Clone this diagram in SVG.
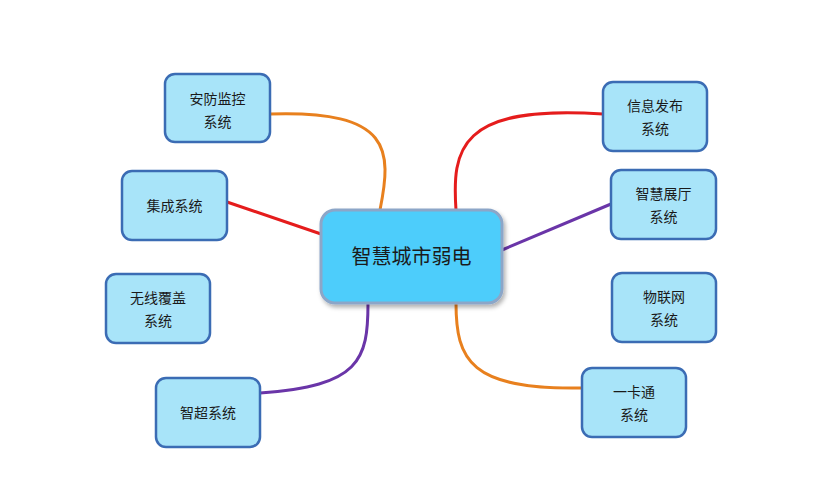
<svg xmlns="http://www.w3.org/2000/svg" width="828" height="500" viewBox="0 0 828 500">
<defs>
<style>
.n{fill:#a8e4f9;stroke:#3b6cb4;stroke-width:2.5}
.t{font-family:"Noto Sans CJK SC",sans-serif;font-size:14px;fill:#1a1a1a;text-anchor:middle}
.c{fill:none;stroke-width:3}
</style>
<filter id="s" x="-10%" y="-10%" width="130%" height="130%"><feDropShadow dx="2" dy="3" stdDeviation="2" flood-color="#000" flood-opacity="0.3"/></filter>
</defs>
<rect width="828" height="500" fill="#fff"/>
<g id="connectors">
<path class="c" stroke="#e8801e" d="M270,114 C392,110 392,150 380,210"/>
<path class="c" stroke="#e51c1c" d="M227,202 L321,234"/>
<path class="c" stroke="#6a35a8" d="M260,393 C360,386 368,360 368,303"/>
<path class="c" stroke="#e51c1c" d="M603,114 C458,104 452,150 456,210"/>
<path class="c" stroke="#6a35a8" d="M611,204 L502,250"/>
<path class="c" stroke="#e8801e" d="M582,388 C470,390 456,360 456,303"/>
</g>
<g id="center"><rect x="321" y="210" width="181" height="93" rx="14" fill="#4dcdfb" stroke="#8ca6c8" stroke-width="3" filter="url(#s)"/><text x="411.5" y="264" class="t" style="font-size:20px">智慧城市弱电</text></g>
<g id="n1"><rect class="n" x="165" y="74" width="105" height="68" rx="10"/><text class="t" x="217.5" y="104">安防监控</text><text class="t" x="217.5" y="127">系统</text></g>
<g id="n2"><rect class="n" x="122" y="171" width="105" height="69" rx="10"/><text class="t" x="174.5" y="211">集成系统</text></g>
<g id="n3"><rect class="n" x="106" y="274" width="104" height="69" rx="10"/><text class="t" x="158" y="303">无线覆盖</text><text class="t" x="158" y="326">系统</text></g>
<g id="n4"><rect class="n" x="156" y="378" width="104" height="69" rx="10"/><text class="t" x="208" y="418">智超系统</text></g>
<g id="n5"><rect class="n" x="603" y="82" width="104" height="69" rx="10"/><text class="t" x="655" y="111">信息发布</text><text class="t" x="655" y="134">系统</text></g>
<g id="n6"><rect class="n" x="611" y="170" width="105" height="69" rx="10"/><text class="t" x="663.5" y="199">智慧展厅</text><text class="t" x="663.5" y="222">系统</text></g>
<g id="n7"><rect class="n" x="612" y="273" width="104" height="69" rx="10"/><text class="t" x="664" y="302">物联网</text><text class="t" x="664" y="325">系统</text></g>
<g id="n8"><rect class="n" x="582" y="368" width="104" height="69" rx="10"/><text class="t" x="634" y="397">一卡通</text><text class="t" x="634" y="420">系统</text></g>
</svg>
